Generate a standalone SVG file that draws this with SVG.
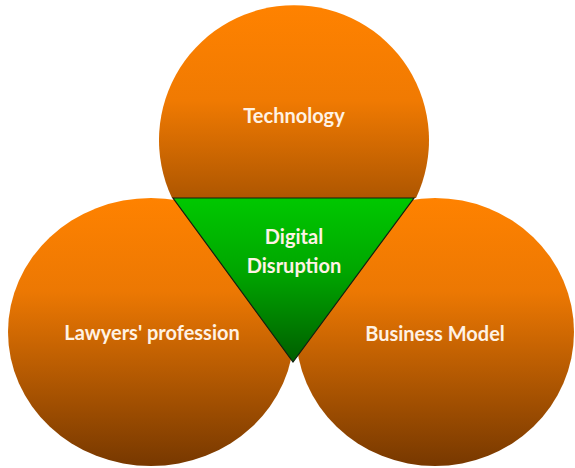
<svg xmlns="http://www.w3.org/2000/svg" width="575" height="468" viewBox="0 0 575 468">
  <defs>
    <linearGradient id="orangeTop" x1="0" y1="6" x2="0" y2="276" gradientUnits="userSpaceOnUse">
      <stop offset="0" stop-color="#FF8200"/>
      <stop offset="0.35" stop-color="#F07A02"/>
      <stop offset="1" stop-color="#7A3A00"/>
    </linearGradient>
    <linearGradient id="orangeSide" x1="0" y1="198" x2="0" y2="466" gradientUnits="userSpaceOnUse">
      <stop offset="0" stop-color="#FF8200"/>
      <stop offset="0.35" stop-color="#EC7803"/>
      <stop offset="1" stop-color="#773800"/>
    </linearGradient>
    <linearGradient id="green" x1="0" y1="198" x2="0" y2="362" gradientUnits="userSpaceOnUse">
      <stop offset="0" stop-color="#00C800"/>
      <stop offset="0.45" stop-color="#00A600"/>
      <stop offset="1" stop-color="#005E00"/>
    </linearGradient>
    <style>
      .label { font-family: "Lato", "Open Sans", "Liberation Sans", sans-serif; font-weight: bold; font-size: 20px; fill: #FFF2E4; text-anchor: middle; }
    </style>
  </defs>

  <!-- top circle, cut at the triangle's upper edge -->
  <g id="technology">
    <path d="M172,198 A135,135 0 1 1 416,198 Z" fill="url(#orangeTop)"/>
    <text class="label" x="294" y="123">Technology</text>
  </g>

  <g id="lawyers-profession">
    <ellipse cx="151" cy="332" rx="143" ry="134" fill="url(#orangeSide)"/>
    <text class="label" x="152" y="340">Lawyers' profession</text>
  </g>

  <g id="business-model">
    <ellipse cx="435" cy="332" rx="139" ry="134" fill="url(#orangeSide)"/>
    <text class="label" x="435" y="341">Business Model</text>
  </g>

  <g id="digital-disruption">
    <polygon points="173,198 414,198 293,362" fill="url(#green)" stroke="#102010" stroke-width="1.2" stroke-linejoin="miter"/>
    <text class="label" x="294" y="244">Digital</text>
    <text class="label" x="294" y="273">Disruption</text>
  </g>

  <g id="connectors"/>
</svg>
